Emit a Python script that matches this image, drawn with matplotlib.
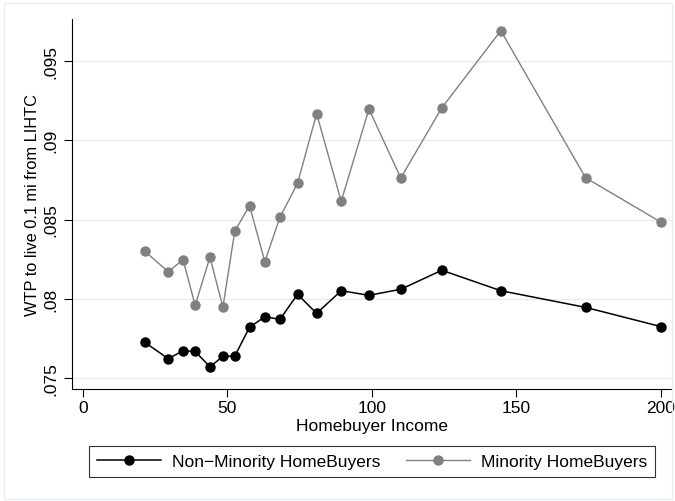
import matplotlib
matplotlib.use('Agg')
import matplotlib.pyplot as plt
from matplotlib.patches import Rectangle

plt.rcParams['font.family'] = ['Liberation Sans', 'DejaVu Sans']

# Homebuyer income (thousands) bins
income = [21.5, 29.6, 34.7, 38.9, 44.0, 48.5, 52.6, 57.7, 63.0, 68.2,
          74.3, 80.9, 89.4, 99.0, 110.0, 124.2, 144.6, 173.9, 200.1]

# WTP to live 0.1 mi from LIHTC
non_minority = [0.07725, 0.07622, 0.07672, 0.07668, 0.07571, 0.07637, 0.07639,
                0.07820, 0.07887, 0.07870, 0.08028, 0.07908, 0.08051, 0.08022,
                0.08060, 0.08180, 0.08051, 0.07946, 0.07824]
minority = [0.08299, 0.08171, 0.08246, 0.07959, 0.08262, 0.07948, 0.08427,
            0.08587, 0.08234, 0.08514, 0.08728, 0.09168, 0.08615, 0.09197,
            0.08762, 0.09205, 0.09691, 0.08764, 0.08482]

x_ticks = [0, 50, 100, 150, 200]
y_ticks = [0.075, 0.08, 0.085, 0.09, 0.095]
y_tick_labels = ['.075', '.08', '.085', '.09', '.095']

fs = 12.5
fig = plt.figure(figsize=(6.75, 5.02), dpi=100)
ax = fig.add_axes([72 / 675, 112 / 502, 600 / 675, 370 / 502])

grid_color = '#e6eef1'
ax.plot(income, non_minority, color='black', linewidth=1.1, marker='o',
        markersize=6.5, label='Non\u2212Minority HomeBuyers', zorder=3)
ax.plot(income, minority, color='#808080', linewidth=1.0, marker='o',
        markersize=6.5, label='Minority HomeBuyers', zorder=3)

ax.set_xlim(-3.7, 203.8)
ax.set_ylim(0.07431, 0.09765)
ax.set_xticks(x_ticks)
ax.set_yticks(y_ticks)
ax.set_yticklabels(y_tick_labels, rotation=90, va='center')
ax.yaxis.grid(True, color=grid_color, linewidth=1.0)
ax.set_axisbelow(True)

for side in ['top', 'right']:
    ax.spines[side].set_visible(False)
for side in ['left', 'bottom']:
    ax.spines[side].set_linewidth(0.8)
    ax.spines[side].set_color('black')

ax.tick_params(axis='both', direction='out', length=6, width=0.8,
               labelsize=fs)
ax.tick_params(axis='x', pad=2)
ax.tick_params(axis='y', pad=4)
ax.set_xlabel('Homebuyer Income', fontsize=fs, labelpad=2)
ax.set_ylabel('WTP to live 0.1 mi from LIHTC', fontsize=11.8, labelpad=2)

leg = fig.legend(loc='center', bbox_to_anchor=(0.551, 0.0787), ncol=2,
                 fontsize=fs, handlelength=3.7, handletextpad=0.6,
                 columnspacing=1.5, frameon=True, fancybox=False,
                 borderpad=0.45, borderaxespad=0)
leg.get_frame().set_edgecolor('black')
leg.get_frame().set_linewidth(0.8)

# faint outer border of the graph region
fig.patches.append(Rectangle((4 / 675, 2 / 502), 668 / 675, 496 / 502,
                             transform=fig.transFigure, fill=False,
                             edgecolor=grid_color, linewidth=1.0))

fig.savefig('out.png', dpi=100)
